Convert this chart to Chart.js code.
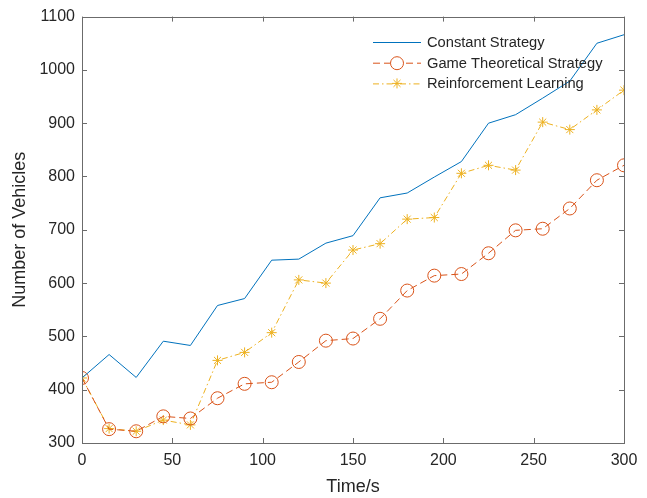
<!DOCTYPE html>
<html>
<head>
<meta charset="utf-8">
<script src="https://cdn.jsdelivr.net/npm/chart.js@4.4.1/dist/chart.umd.min.js"></script>
<style>
  html, body { margin: 0; padding: 0; background: #fff; }
  #wrap { width: 647px; height: 498px; }
</style>
</head>
<body>
<div id="wrap"><canvas id="vehChart" width="647" height="498"></canvas></div>
<script>
// time axis (s)
const times = [0, 15, 30, 45, 60, 75, 90, 105, 120, 135, 150, 165, 180, 195, 210, 225, 240, 255, 270, 285, 300];

// vehicles per strategy
const constantStrategy = [422, 466, 423, 491, 483, 558, 571, 643, 645, 675, 689, 760, 769, 799, 828, 900, 916, 947, 979, 1050, 1066];
const gameTheoretical = [422, 326, 322, 350, 346, 384, 411, 414, 452, 492, 496, 533, 586, 614, 617, 656, 699, 702, 740, 793, 821];
const reinforcement = [422, 327, 322, 343, 334, 455, 470, 507, 606, 600, 662, 674, 720, 723, 806, 821, 812, 902, 888, 925, 962];

const xTicks = [0, 50, 100, 150, 200, 250, 300];
const yTicks = [300, 400, 500, 600, 700, 800, 900, 1000, 1100];

const blue = '#0072BD';
const orange = '#D95319';
const yellow = '#EDB120';
const axisColor = '#6b6b6b';
const textColor = '#262626';
const fontFamily = '"Liberation Sans", Arial, sans-serif';

function toPoints(ys) {
    return times.map((t, i) => ({ x: t, y: ys[i] }));
}

// box around the plot with inward ticks, like matlab "box on"
const boxPlugin = {
    id: 'box',
    afterDraw(chart) {
        const c = chart.ctx;
        const a = chart.chartArea;
        const xs = chart.scales.x;
        const ys = chart.scales.y;
        c.save();
        c.strokeStyle = axisColor;
        c.lineWidth = 1;
        c.strokeRect(Math.round(a.left) + 0.5, Math.round(a.top) + 0.5,
            Math.round(a.right - a.left), Math.round(a.bottom - a.top));
        c.beginPath();
        xTicks.forEach(v => {
            const px = Math.round(xs.getPixelForValue(v)) + 0.5;
            c.moveTo(px, a.bottom); c.lineTo(px, a.bottom - 5);
            c.moveTo(px, a.top); c.lineTo(px, a.top + 5);
        });
        yTicks.forEach(v => {
            const py = Math.round(ys.getPixelForValue(v)) + 0.5;
            c.moveTo(a.left, py); c.lineTo(a.left + 5, py);
            c.moveTo(a.right, py); c.lineTo(a.right - 5, py);
        });
        c.stroke();
        c.restore();
    }
};

// legend drawn by hand so the line samples show dash + marker
const legendPlugin = {
    id: 'matLegend',
    afterDraw(chart) {
        const c = chart.ctx;
        const rows = [
            { label: 'Constant Strategy', color: blue, dash: [], marker: null },
            { label: 'Game Theoretical Strategy', color: orange, dash: [7, 4], marker: 'circle' },
            { label: 'Reinforcement Learning', color: yellow, dash: [6, 3, 1.5, 3], marker: 'star' }
        ];
        const x0 = 373, x1 = 421, tx = 427;
        let y = 42;
        c.save();
        rows.forEach(r => {
            c.strokeStyle = r.color;
            c.lineWidth = 1;
            c.setLineDash(r.dash);
            c.beginPath();
            c.moveTo(x0, y + 0.5); c.lineTo(x1, y + 0.5);
            c.stroke();
            c.setLineDash([]);
            const cx = (x0 + x1) / 2;
            if (r.marker === 'circle') {
                c.fillStyle = '#fff';
                c.beginPath();
                c.arc(cx, y + 0.5, 6.5, 0, Math.PI * 2);
                c.fill();
                c.stroke();
            } else if (r.marker === 'star') {
                c.beginPath();
                const s = 5, d = s * 0.707;
                c.moveTo(cx - s, y); c.lineTo(cx + s, y);
                c.moveTo(cx, y - s); c.lineTo(cx, y + s);
                c.moveTo(cx - d, y - d); c.lineTo(cx + d, y + d);
                c.moveTo(cx - d, y + d); c.lineTo(cx + d, y - d);
                c.stroke();
            }
            c.fillStyle = textColor;
            c.font = '14.7px ' + fontFamily;
            c.textBaseline = 'middle';
            c.fillText(r.label, tx, y + 1);
            y += 20.7;
        });
        c.restore();
    }
};

const ctx = document.getElementById('vehChart').getContext('2d');
const chart = new Chart(ctx, {
    type: 'line',
    data: {
        datasets: [{
            label: 'Constant Strategy',
            data: toPoints(constantStrategy),
            borderColor: blue,
            borderWidth: 1,
            pointRadius: 0,
            tension: 0
        }, {
            label: 'Game Theoretical Strategy',
            data: toPoints(gameTheoretical),
            borderColor: orange,
            borderWidth: 1,
            borderDash: [7, 4],
            pointStyle: 'circle',
            pointRadius: 6.5,
            pointBorderColor: orange,
            pointBackgroundColor: 'rgba(0,0,0,0)',
            pointBorderWidth: 1,
            tension: 0
        }, {
            label: 'Reinforcement Learning',
            data: toPoints(reinforcement),
            borderColor: yellow,
            borderWidth: 1,
            borderDash: [6, 3, 1.5, 3],
            pointStyle: 'star',
            pointRadius: 5,
            pointBorderColor: yellow,
            pointBorderWidth: 1,
            tension: 0
        }]
    },
    options: {
        responsive: false,
        animation: false,
        layout: { padding: { top: 15, right: 23, left: 0, bottom: 0 } },
        plugins: {
            legend: { display: false },
            tooltip: { enabled: false }
        },
        scales: {
            x: {
                type: 'linear',
                min: 0,
                max: 300,
                afterBuildTicks: s => { s.ticks = xTicks.map(v => ({ value: v })); },
                afterFit: s => { s.height = 55; },
                grid: { display: false, drawTicks: false },
                border: { display: false },
                ticks: {
                    color: textColor,
                    padding: 8,
                    maxRotation: 0,
                    callback: v => String(v),
                    font: { family: fontFamily, size: 16 }
                },
                title: {
                    display: true,
                    text: 'Time/s',
                    color: textColor,
                    padding: { top: 0, bottom: 0 },
                    font: { family: fontFamily, size: 18 }
                }
            },
            y: {
                min: 300,
                max: 1100,
                afterBuildTicks: s => { s.ticks = yTicks.map(v => ({ value: v })); },
                afterFit: s => { s.width = 82; },
                grid: { display: false, drawTicks: false },
                border: { display: false },
                ticks: {
                    color: textColor,
                    padding: 7,
                    callback: v => String(v),
                    font: { family: fontFamily, size: 16 }
                },
                title: {
                    display: true,
                    text: 'Number of Vehicles',
                    color: textColor,
                    padding: { top: 9, bottom: 0 },
                    font: { family: fontFamily, size: 18 }
                }
            }
        }
    },
    plugins: [boxPlugin, legendPlugin]
});
</script>
</body>
</html>
